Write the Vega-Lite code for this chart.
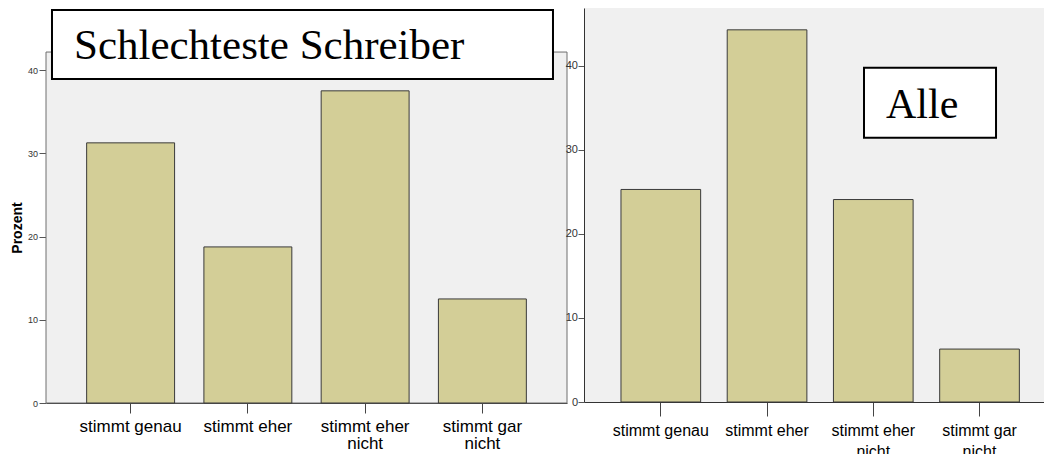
{
  "$schema": "https://vega.github.io/schema/vega-lite/v6.json",
  "padding": {"left": 10, "top": 8, "right": 0, "bottom": 0},
  "background": "white",
  "spacing": 17,
  "bounds": "flush",
  "config": {"view": {"stroke": null}, "axis": {"grid": false}},
  "datasets": {
    "schlecht": [
      {"Antwort": "stimmt genau", "Prozent": 31.25},
      {"Antwort": "stimmt eher", "Prozent": 18.75},
      {"Antwort": "stimmt eher nicht", "Prozent": 37.5},
      {"Antwort": "stimmt gar nicht", "Prozent": 12.5}
    ],
    "alle": [
      {"Antwort": "stimmt genau", "Prozent": 25.3},
      {"Antwort": "stimmt eher", "Prozent": 44.3},
      {"Antwort": "stimmt eher nicht", "Prozent": 24.1},
      {"Antwort": "stimmt gar nicht", "Prozent": 6.3}
    ],
    "titel1": [{"label": "Schlechteste Schreiber"}],
    "titel2": [{"label": "Alle"}]
  },
  "hconcat": [
    {
      "width": 521,
      "height": 395,
      "view": {"fill": "white", "stroke": null},
      "resolve": {"scale": {"x": "independent"}, "axis": {"x": "independent"}},
      "layer": [
        {
          "data": {"name": "titel1"},
          "mark": {"type": "rect", "fill": "#f0f0f0", "stroke": "#6e6e6e", "strokeWidth": 1},
          "encoding": {
            "x": {"datum": 0, "scale": {"domain": [0, 1]}, "axis": null},
            "x2": {"datum": 1},
            "y": {"datum": 0, "scale": {"domain": [0, 47.45], "nice": false}},
            "y2": {"datum": 42.16}
          }
        },
        {
          "data": {"name": "schlecht"},
          "mark": {"type": "bar", "fill": "#d3ce97", "stroke": "#3a3a3a", "strokeWidth": 1},
          "encoding": {
            "x": {
              "field": "Antwort", "type": "nominal", "sort": null,
              "scale": {"domain": ["stimmt genau", "stimmt eher", "stimmt eher nicht", "stimmt gar nicht"], "paddingInner": 0.25, "paddingOuter": 0.3466},
              "axis": {
                "title": null, "labelAngle": 0, "labelFont": "Liberation Sans", "labelFontSize": 17, "labelColor": "black",
                "tickSize": 10, "tickColor": "#444", "labelPadding": 5, "labelLineHeight": 17, "domainColor": "#333",
                "labelExpr": "datum.label == 'stimmt eher nicht' ? ['stimmt eher', 'nicht'] : datum.label == 'stimmt gar nicht' ? ['stimmt gar', 'nicht'] : datum.label"
              }
            },
            "y": {
              "field": "Prozent", "type": "quantitative",
              "scale": {"domain": [0, 47.45], "nice": false},
              "axis": {
                "title": "Prozent", "titleFont": "Liberation Sans", "titleFontSize": 14, "titleFontWeight": "bold", "titleColor": "black",
                "titleX": -24.5, "titleY": 219.5, "titleAngle": 270, "titleAlign": "center", "titleBaseline": "alphabetic",
                "values": [0, 10, 20, 30, 40], "labelFont": "Liberation Sans", "labelFontSize": 9, "labelColor": "#333",
                "tickSize": 7, "tickColor": "#555", "labelPadding": 1.5, "domain": false
              }
            }
          }
        },
        {
          "data": {"name": "titel1"},
          "mark": {"type": "rect", "fill": "white", "stroke": "black", "strokeWidth": 2},
          "encoding": {
            "x": {"datum": 0.0115, "scale": {"domain": [0, 1]}, "axis": null},
            "x2": {"datum": 0.9731},
            "y": {"datum": 38.92, "scale": {"domain": [0, 47.45], "nice": false}},
            "y2": {"datum": 47.21}
          }
        },
        {
          "data": {"name": "titel1"},
          "mark": {"type": "text", "font": "Liberation Serif", "fontSize": 43, "color": "black", "align": "left", "baseline": "alphabetic"},
          "encoding": {
            "x": {"datum": 0.0537, "scale": {"domain": [0, 1]}, "axis": null},
            "y": {"datum": 41.32, "scale": {"domain": [0, 47.45], "nice": false}},
            "text": {"field": "label"}
          }
        }
      ]
    },
    {
      "width": 460,
      "height": 394,
      "view": {"fill": "#f0f0f0", "stroke": null},
      "resolve": {"scale": {"x": "independent"}, "axis": {"x": "independent"}},
      "layer": [
        {
          "data": {"name": "alle"},
          "mark": {"type": "bar", "fill": "#d3ce97", "stroke": "#3a3a3a", "strokeWidth": 1},
          "encoding": {
            "x": {
              "field": "Antwort", "type": "nominal", "sort": null,
              "scale": {"domain": ["stimmt genau", "stimmt eher", "stimmt eher nicht", "stimmt gar nicht"], "paddingInner": 0.25, "paddingOuter": 0.29, "align": 0.6},
              "axis": {
                "title": null, "labelAngle": 0, "labelFont": "Liberation Sans", "labelFontSize": 16, "labelColor": "black",
                "tickSize": 14, "tickColor": "#444", "labelPadding": 6, "labelLineHeight": 21, "domainColor": "#333",
                "labelExpr": "datum.label == 'stimmt eher nicht' ? ['stimmt eher', 'nicht'] : datum.label == 'stimmt gar nicht' ? ['stimmt gar', 'nicht'] : datum.label"
              }
            },
            "y": {
              "field": "Prozent", "type": "quantitative",
              "scale": {"domain": [0, 46.9], "nice": false},
              "axis": {
                "title": null, "values": [0, 10, 20, 30, 40], "labelFont": "Liberation Sans", "labelFontSize": 11, "labelColor": "#333",
                "tickSize": 6, "tickColor": "#555", "labelPadding": 0.5, "domainColor": "#333"
              }
            }
          }
        },
        {
          "data": {"name": "titel2"},
          "mark": {"type": "rect", "fill": "white", "stroke": "black", "strokeWidth": 2},
          "encoding": {
            "x": {"datum": 0.6087, "scale": {"domain": [0, 1]}, "axis": null},
            "x2": {"datum": 0.8957},
            "y": {"datum": 31.46, "scale": {"domain": [0, 46.9], "nice": false}},
            "y2": {"datum": 39.8}
          }
        },
        {
          "data": {"name": "titel2"},
          "mark": {"type": "text", "font": "Liberation Serif", "fontSize": 42, "color": "black", "align": "left", "baseline": "alphabetic"},
          "encoding": {
            "x": {"datum": 0.6565, "scale": {"domain": [0, 1]}, "axis": null},
            "y": {"datum": 33.85, "scale": {"domain": [0, 46.9], "nice": false}},
            "text": {"field": "label"}
          }
        }
      ]
    }
  ]
}
